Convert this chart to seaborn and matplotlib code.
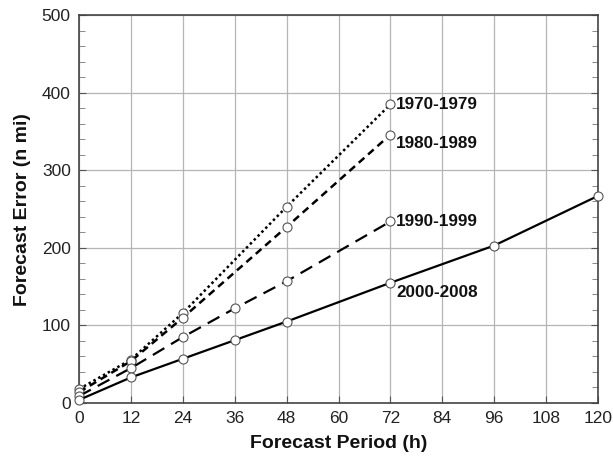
import matplotlib
matplotlib.use("Agg")
import matplotlib.pyplot as plt
import seaborn as sns
import pandas as pd
from matplotlib.ticker import MultipleLocator

hours_70 = [0, 12, 24, 48, 72]
err_70 = [18, 56, 116, 253, 385]
hours_80 = [0, 12, 24, 48, 72]
err_80 = [14, 54, 110, 227, 346]
hours_90 = [0, 12, 24, 36, 48, 72]
err_90 = [9, 45, 85, 122, 157, 234]
hours_00 = [0, 12, 24, 36, 48, 72, 96, 120]
err_00 = [4, 33, 57, 81, 105, 155, 203, 267]
labels = ["1970-1979", "1980-1989", "1990-1999", "2000-2008"]
label_y = [385, 334, 234, 143]

sns.set_style("white")
plt.rcParams['font.family'] = ['Liberation Sans', 'DejaVu Sans']

fig = plt.figure(figsize=(6.13, 4.59), dpi=100)
ax = fig.add_axes([0.129, 0.122, 0.8465, 0.845])

series = [(hours_70, err_70, (0, (1, 1.2)), 1.8),
          (hours_80, err_80, (0, (3, 2)), 1.8),
          (hours_90, err_90, (0, (6, 3.5)), 1.6),
          (hours_00, err_00, '-', 1.6)]
for (h, e, ls, lw), lab in zip(series, labels):
    df = pd.DataFrame({"h": h, "e": e})
    sns.lineplot(data=df, x="h", y="e", ax=ax, color="black", linestyle=ls,
                 linewidth=lw, marker="o", markersize=6.5, markerfacecolor="white",
                 markeredgecolor="#555555", markeredgewidth=0.8, zorder=3,
                 clip_on=False)

for y, lab in zip(label_y, labels):
    ax.text(73.3, y, lab, fontsize=12.3, fontweight='bold', va='center', ha='left',
            color='#111111')

ax.set_xlim(0, 120)
ax.set_ylim(0, 500)
ax.xaxis.set_major_locator(MultipleLocator(12))
ax.yaxis.set_major_locator(MultipleLocator(100))
ax.yaxis.set_minor_locator(MultipleLocator(20))
ax.grid(True, which='major', color='#b5b5b5', linewidth=0.9)
ax.tick_params(axis='both', which='both', direction='in', labelsize=12.5,
               labelcolor='#222222', color='#555555', right=True)
ax.tick_params(axis='y', which='major', length=5, left=True)
ax.tick_params(axis='y', which='minor', length=4, left=True, right=True, color='#777777')
ax.tick_params(axis='x', which='major', length=5, bottom=True)
ax.tick_params(axis='both', pad=6)
for s in ax.spines.values():
    s.set_color('#444444')
    s.set_linewidth(1.2)
ax.set_xlabel("Forecast Period (h)", fontsize=14, fontweight='bold', labelpad=6,
              color='#111111')
ax.set_ylabel("Forecast Error (n mi)", fontsize=14, fontweight='bold', labelpad=8,
              color='#111111')

fig.savefig("out.png", dpi=100)
